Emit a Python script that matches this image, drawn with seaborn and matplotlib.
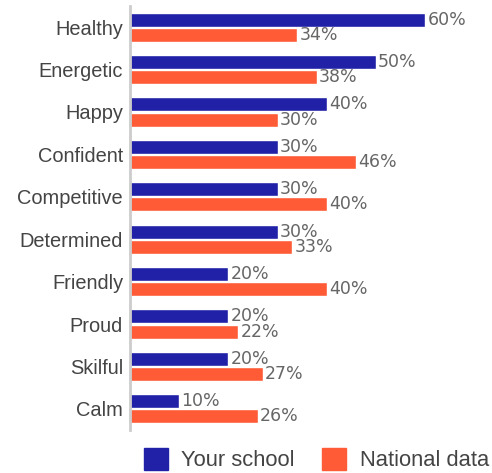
import matplotlib
matplotlib.use("Agg")
import matplotlib.pyplot as plt
import seaborn as sns
import pandas as pd

traits = ["Healthy", "Energetic", "Happy", "Confident", "Competitive",
          "Determined", "Friendly", "Proud", "Skilful", "Calm"]
your_school = [60, 50, 40, 30, 30, 30, 20, 20, 20, 10]
national_data = [34, 38, 30, 46, 40, 33, 40, 22, 27, 26]
series_names = ["Your school", "National data"]
colors = ["#2121A8", "#FF5B37"]

df = pd.DataFrame({
    "trait": traits * 2,
    "value": your_school + national_data,
    "series": [series_names[0]] * len(traits) + [series_names[1]] * len(traits),
})

sns.set_style("white")
plt.rcParams["font.family"] = ["Liberation Sans", "DejaVu Sans"]

fig = plt.figure(figsize=(4.92, 4.73), dpi=100)
ax = fig.add_axes([130 / 492, 1 - 430 / 473, 362 / 492, 424 / 473])

sns.barplot(data=df, y="trait", x="value", hue="series", orient="h",
            palette=colors, saturation=1, order=traits, hue_order=series_names,
            width=0.71, gap=0.07, ax=ax, legend=False)

for cont in ax.containers:
    ax.bar_label(cont, fmt="%d%%", padding=1.5, fontsize=12.5,
                 color="#666666", family="DejaVu Sans")

ax.set_xlim(0, 362 / 4.92)
ax.set_ylim(9.5, -0.5)
ax.set_xlabel("")
ax.set_ylabel("")
ax.set_xticks([])
ax.tick_params(axis="y", length=0, pad=5, labelsize=14.4, labelcolor="#444444")
for side in ["top", "right", "bottom"]:
    ax.spines[side].set_visible(False)
ax.spines["left"].set_color("#cccccc")
ax.spines["left"].set_linewidth(2)

handles = [plt.Rectangle((0, 0), 1, 1, color=c) for c in colors]
fig.legend(handles, series_names, loc="center", bbox_to_anchor=(0.643, 0.0275),
           ncol=2, frameon=False, fontsize=15.8, handlelength=1.1,
           handleheight=1.1, handletextpad=0.6, columnspacing=1.25,
           borderpad=0, labelcolor="#444444")

fig.savefig("out.png", dpi=100)
